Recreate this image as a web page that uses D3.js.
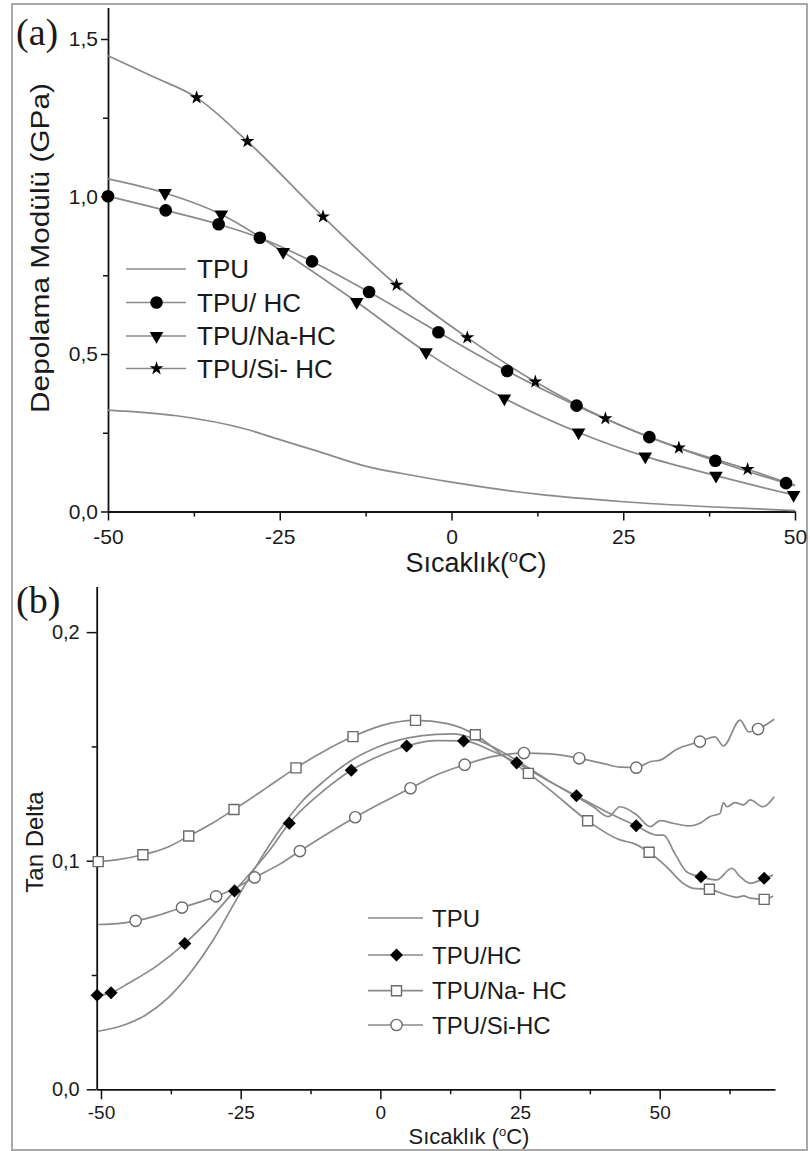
<!DOCTYPE html>
<html><head><meta charset="utf-8">
<script src="https://cdn.jsdelivr.net/npm/d3@7"></script>
<style>
body{margin:0;background:#fff}
svg{display:block}
text{font-family:"Liberation Sans",Arial,sans-serif;fill:#1a1a1a}
</style>
</head><body>
<svg id="c" width="810" height="1151"></svg>
<script>
// ---------------- Panel (a): storage modulus ----------------
const aXTicks = [-50, -25, 0, 25, 50];
const aXTickLabels = ["-50", "-25", "0", "25", "50"];
const aXMinor = [-37.5, -12.5, 12.5, 37.5];
const aYTicks = [0, 0.5, 1.0, 1.5];
const aYTickLabels = ["0,0", "0,5", "1,0", "1,5"];
const aYMinor = [0.25, 0.75, 1.25];

const aTpuT = [-50, -40, -30, -25, -20, -12.5, -5, 0, 12.5, 25, 37.5, 50];
const aTpuE = [0.322, 0.304, 0.262, 0.228, 0.195, 0.144, 0.112, 0.093, 0.055, 0.031, 0.015, 0.003];

const aHcT = [-50, -41.6, -33.9, -27.9, -20.3, -12.0, -1.9, 8.1, 18.2, 28.8, 38.4, 48.7, 50];
const aHcE = [1.001, 0.956, 0.912, 0.869, 0.794, 0.697, 0.569, 0.446, 0.336, 0.236, 0.161, 0.090, 0.082];
const aHcMarkT = [-50, -41.6, -33.9, -27.9, -20.3, -12.0, -1.9, 8.1, 18.2, 28.8, 38.4, 48.7];
const aHcMarkE = [1.001, 0.956, 0.912, 0.869, 0.794, 0.697, 0.569, 0.446, 0.336, 0.236, 0.161, 0.090];

const aNaT = [-50, -41.7, -33.5, -24.5, -13.8, -3.7, 7.7, 18.5, 28.2, 38.5, 49.8, 50];
const aNaE = [1.056, 1.011, 0.943, 0.824, 0.665, 0.506, 0.359, 0.251, 0.175, 0.114, 0.053, 0.052];
const aNaMarkT = [-41.7, -33.5, -24.5, -13.8, -3.7, 7.7, 18.5, 28.2, 38.5, 49.8];
const aNaMarkE = [1.011, 0.943, 0.824, 0.665, 0.506, 0.359, 0.251, 0.175, 0.114, 0.053];

const aSiT = [-50, -43.4, -37.1, -29.7, -18.7, -8.0, 2.3, 12.2, 22.4, 33.1, 43.1, 50];
const aSiE = [1.447, 1.380, 1.314, 1.175, 0.936, 0.719, 0.552, 0.412, 0.295, 0.202, 0.134, 0.083];
const aSiMarkT = [-37.1, -29.7, -18.7, -8.0, 2.3, 12.2, 22.4, 33.1, 43.1];
const aSiMarkE = [1.314, 1.175, 0.936, 0.719, 0.552, 0.412, 0.295, 0.202, 0.134];

const aLegend = ["TPU", "TPU/ HC", "TPU/Na-HC", "TPU/Si- HC"];

// ---------------- Panel (b): tan delta ----------------
const bXTicks = [-50, -25, 0, 25, 50];
const bXTickLabels = ["-50", "-25", "0", "25", "50"];
const bXMinor = [-37.5, -12.5, 12.5, 37.5, 62.5];
const bYTicks = [0, 0.1, 0.2];
const bYTickLabels = ["0,0", "0,1", "0,2"];
const bYMinor = [0.05, 0.15];

const bTpuT = [-50.5, -46, -42, -38, -34, -30, -26, -22, -18, -14, -10, -5, 0, 5, 10, 13, 17, 20, 25, 30.4, 35.1, 38.1, 40.8, 42.9, 45.9, 48.3, 50.1, 52.4, 55.4, 57.2, 59.0, 60.8, 61.4, 62.0, 63.5, 65.0, 66.2, 68.5, 70.5];
const bTpuD = [0.0254, 0.0280, 0.0325, 0.0400, 0.0510, 0.0650, 0.0820, 0.0985, 0.1135, 0.1260, 0.1350, 0.1442, 0.1502, 0.1537, 0.1553, 0.1555, 0.1532, 0.1500, 0.1430, 0.1346, 0.1280, 0.1236, 0.1193, 0.1236, 0.1200, 0.1149, 0.1175, 0.1164, 0.1152, 0.1164, 0.1193, 0.1207, 0.1254, 0.1236, 0.1254, 0.1244, 0.1266, 0.1236, 0.1280];

const bHcT = [-50.7, -48.2, -45, -40, -35, -30, -26.1, -20, -16.3, -10, -5.2, 0, 4.7, 10, 14.9, 20, 24.4, 30, 35.1, 40, 45.8, 49.5, 50.7, 52.7, 54.8, 57.4, 60.2, 62.9, 64.4, 66.2, 68.7, 70.3];
const bHcD = [0.0411, 0.0422, 0.0465, 0.0540, 0.0638, 0.0760, 0.0868, 0.1040, 0.1164, 0.1310, 0.1396, 0.1460, 0.1502, 0.1525, 0.1524, 0.1480, 0.1428, 0.1350, 0.1284, 0.1220, 0.1153, 0.1112, 0.1112, 0.1032, 0.0952, 0.0930, 0.0916, 0.0967, 0.0930, 0.0901, 0.0923, 0.0937];
const bHcMarkT = [-50.7, -48.2, -35.0, -26.1, -16.3, -5.2, 4.7, 14.9, 24.4, 35.1, 45.8, 57.4, 68.7];
const bHcMarkD = [0.0411, 0.0422, 0.0638, 0.0868, 0.1164, 0.1396, 0.1502, 0.1524, 0.1428, 0.1284, 0.1153, 0.0930, 0.0923];

const bNaT = [-50.5, -47, -42.5, -38, -34.3, -30, -26.2, -20, -15.1, -10, -4.9, 0, 6.3, 12, 17.0, 22, 26.5, 30.4, 37.1, 42.9, 45.3, 48.1, 51.2, 54.2, 56.0, 58.9, 62.0, 63.8, 65.0, 66.2, 68.7, 70.3];
const bNaD = [0.0996, 0.1005, 0.1026, 0.1060, 0.1108, 0.1165, 0.1224, 0.1325, 0.1406, 0.1480, 0.1543, 0.1590, 0.1614, 0.1600, 0.1551, 0.1460, 0.1382, 0.1309, 0.1175, 0.1091, 0.1076, 0.1037, 0.0974, 0.0901, 0.0879, 0.0875, 0.0850, 0.0840, 0.0846, 0.0836, 0.0831, 0.0846];
const bNaMarkT = [-50.5, -42.5, -34.3, -26.2, -15.1, -4.9, 6.3, 17.0, 26.5, 37.1, 48.1, 58.9, 68.7];
const bNaMarkD = [0.0996, 0.1026, 0.1108, 0.1224, 0.1406, 0.1543, 0.1614, 0.1551, 0.1382, 0.1175, 0.1037, 0.0875, 0.0831];

const bSiT = [-50.5, -47, -43.8, -40, -35.5, -29.4, -26, -22.5, -18, -14.4, -10, -4.5, 0, 5.4, 10, 15.1, 20, 25.7, 30.4, 35.6, 40, 42.9, 45.8, 48.3, 50.1, 53.0, 57.2, 59.9, 61.4, 64.4, 65.9, 67.6, 70.5];
const bSiD = [0.0721, 0.0725, 0.0737, 0.0760, 0.0795, 0.0844, 0.0880, 0.0927, 0.0985, 0.1042, 0.1110, 0.1190, 0.1250, 0.1317, 0.1375, 0.1420, 0.1455, 0.1471, 0.1467, 0.1448, 0.1425, 0.1409, 0.1407, 0.1433, 0.1440, 0.1487, 0.1521, 0.1542, 0.1502, 0.1615, 0.1564, 0.1576, 0.1619];
const bSiMarkT = [-43.8, -35.5, -29.4, -22.5, -14.4, -4.5, 5.4, 15.1, 25.7, 35.6, 45.8, 57.2, 67.6];
const bSiMarkD = [0.0737, 0.0795, 0.0844, 0.0927, 0.1042, 0.1190, 0.1317, 0.1420, 0.1471, 0.1448, 0.1407, 0.1521, 0.1576];

const bLegend = ["TPU", "TPU/HC", "TPU/Na- HC", "TPU/Si-HC"];

// ---------------- drawing ----------------
const svg = d3.select("#c");
const LINE = "#8a8a8a";

// outer frame
svg.append("rect").attr("x", 12).attr("y", 4).attr("width", 795).attr("height", 1146)
  .attr("fill", "none").attr("stroke", "#a8a8a8").attr("stroke-width", 2);

const zip = (a, b) => a.map((v, i) => [v, b[i]]);

function axes(g, x, y, o) {
  const xa = g.append("g").attr("transform", `translate(0,${y.range()[0]})`)
    .call(d3.axisBottom(x).tickValues(o.xt).tickFormat((d, i) => o.xl[i])
      .tickSize(o.xSize).tickPadding(o.xPad).tickSizeOuter(0));
  xa.select(".domain").attr("stroke", "#111").attr("stroke-width", 1.8);
  xa.selectAll(".tick line").attr("stroke", "#111").attr("stroke-width", 1.5);
  xa.selectAll(".tick text").attr("font-size", o.fs).attr("fill", "#1a1a1a");
  const xm = g.append("g").attr("transform", `translate(0,${y.range()[0]})`)
    .call(d3.axisBottom(x).tickValues(o.xm).tickFormat("").tickSize(o.mSize).tickSizeOuter(0));
  xm.select(".domain").remove();
  xm.selectAll(".tick line").attr("stroke", "#111").attr("stroke-width", 1.5);

  const ya = g.append("g").attr("transform", `translate(${x.range()[0]},0)`)
    .call(d3.axisLeft(y).tickValues(o.yt).tickFormat((d, i) => o.yl[i])
      .tickSize(o.ySize).tickPadding(o.yPad).tickSizeOuter(0));
  ya.select(".domain").attr("stroke", "#111").attr("stroke-width", 1.8);
  ya.selectAll(".tick line").attr("stroke", "#111").attr("stroke-width", 1.5);
  ya.selectAll(".tick text").attr("font-size", o.yfs || o.fs).attr("fill", "#1a1a1a");
  const ym = g.append("g").attr("transform", `translate(${x.range()[0]},0)`)
    .call(d3.axisLeft(y).tickValues(o.ym).tickFormat("").tickSize(o.mSize).tickSizeOuter(0));
  ym.select(".domain").remove();
  ym.selectAll(".tick line").attr("stroke", "#111").attr("stroke-width", 1.5);
}

function series(g, x, y, xs, ys) {
  const line = d3.line().x(d => x(d[0])).y(d => y(d[1])).curve(d3.curveMonotoneX);
  g.append("path").datum(zip(xs, ys)).attr("d", line)
    .attr("fill", "none").attr("stroke", LINE).attr("stroke-width", 1.7);
}

function markers(g, x, y, xs, ys, m) {
  g.selectAll(null).data(zip(xs, ys)).join("path")
    .attr("d", d3.symbol().type(m.type).size(m.size))
    .attr("transform", d => `translate(${x(d[0])},${y(d[1])}) rotate(${m.rot || 0})`)
    .attr("fill", m.fill).attr("stroke", m.stroke).attr("stroke-width", m.sw || 0);
}

// ===== Panel (a) =====
const ax = d3.scaleLinear().domain([-50, 50]).range([108, 795]);
const ay = d3.scaleLinear().domain([0, 1.6]).range([511.5, 7.5]);
const ga = svg.append("g");

axes(ga, ax, ay, {xt: aXTicks, xl: aXTickLabels, xm: aXMinor, yt: aYTicks, yl: aYTickLabels, ym: aYMinor,
  xSize: 9, xPad: 9, ySize: 7, yPad: 3, mSize: 5, fs: 21});

const mA = {
  hc: {type: d3.symbolCircle, size: 125, fill: "#000", stroke: "none"},
  na: {type: d3.symbolTriangle, size: 80, fill: "#000", stroke: "none", rot: 180},
  si: {type: d3.symbolStar, size: 60, fill: "#000", stroke: "none"}
};
series(ga, ax, ay, aTpuT, aTpuE);
series(ga, ax, ay, aNaT, aNaE);
series(ga, ax, ay, aHcT, aHcE);
series(ga, ax, ay, aSiT, aSiE);
markers(ga, ax, ay, aNaMarkT, aNaMarkE, mA.na);
markers(ga, ax, ay, aHcMarkT, aHcMarkE, mA.hc);
markers(ga, ax, ay, aSiMarkT, aSiMarkE, mA.si);

// legend (a)
const legA = [null, mA.hc, mA.na, mA.si];
const legAY = [269, 302.5, 336, 368.5];
aLegend.forEach((t, i) => {
  const yy = legAY[i];
  ga.append("line").attr("x1", 126).attr("x2", 186).attr("y1", yy).attr("y2", yy)
    .attr("stroke", LINE).attr("stroke-width", 1.7);
  if (legA[i]) {
    const m = legA[i];
    ga.append("path").attr("d", d3.symbol().type(m.type).size(m.size)())
      .attr("transform", `translate(156.5,${yy}) rotate(${m.rot || 0})`).attr("fill", m.fill);
  }
  ga.append("text").attr("x", 197).attr("y", yy).attr("dy", "0.36em")
    .attr("font-size", 26).text(t);
});

// titles (a)
ga.append("text").attr("transform", "translate(49,248) rotate(-90)")
  .attr("text-anchor", "middle").attr("font-size", 26)
  .attr("textLength", 330).attr("lengthAdjust", "spacingAndGlyphs")
  .text("Depolama Modülü (GPa)");
const ta = ga.append("text").attr("x", 476).attr("y", 572).attr("text-anchor", "middle").attr("font-size", 27);
ta.append("tspan").text("Sıcaklık(");
ta.append("tspan").attr("font-size", 16).attr("dy", -10).text("o");
ta.append("tspan").attr("dy", 10).text("C)");
ga.append("text").attr("x", 16).attr("y", 45).attr("font-size", 38)
  .style("font-family", "'Liberation Serif','Times New Roman',serif").text("(a)");

// ===== Panel (b) =====
const bx = d3.scaleLinear().domain([-50.77, 70.64]).range([96.7, 775]);
const by = d3.scaleLinear().domain([0, 0.22]).range([1089.3, 586.4]);
const gb = svg.append("g");

axes(gb, bx, by, {xt: bXTicks, xl: bXTickLabels, xm: bXMinor, yt: bYTicks, yl: bYTickLabels, ym: bYMinor,
  xSize: 10, xPad: 6, ySize: 10, yPad: 7, mSize: 5, fs: 19, yfs: 20});

const mB = {
  hc: {type: d3.symbolSquare, size: 85, fill: "#000", stroke: "none", rot: 45},
  na: {type: d3.symbolSquare, size: 100, fill: "#fff", stroke: "#6a6a6a", sw: 1.4},
  si: {type: d3.symbolCircle, size: 100, fill: "#fff", stroke: "#6a6a6a", sw: 1.4}
};
series(gb, bx, by, bTpuT, bTpuD);
series(gb, bx, by, bHcT, bHcD);
series(gb, bx, by, bNaT, bNaD);
series(gb, bx, by, bSiT, bSiD);
markers(gb, bx, by, bSiMarkT, bSiMarkD, mB.si);
markers(gb, bx, by, bNaMarkT, bNaMarkD, mB.na);
markers(gb, bx, by, bHcMarkT, bHcMarkD, mB.hc);

const legB = [null, mB.hc, mB.na, mB.si];
const legBY = [918, 955, 990.7, 1025];
bLegend.forEach((t, i) => {
  const yy = legBY[i];
  gb.append("line").attr("x1", 368).attr("x2", 423).attr("y1", yy).attr("y2", yy)
    .attr("stroke", LINE).attr("stroke-width", 1.7);
  if (legB[i]) {
    const m = legB[i];
    gb.append("path").attr("d", d3.symbol().type(m.type).size(m.size)())
      .attr("transform", `translate(396.5,${yy}) rotate(${m.rot || 0})`)
      .attr("fill", m.fill).attr("stroke", m.stroke).attr("stroke-width", m.sw || 0);
  }
  gb.append("text").attr("x", 432).attr("y", yy).attr("dy", "0.36em")
    .attr("font-size", 24).text(t);
});

gb.append("text").attr("transform", "translate(43,842) rotate(-90)")
  .attr("text-anchor", "middle").attr("font-size", 24).text("Tan Delta");
const tb = gb.append("text").attr("x", 469).attr("y", 1144).attr("text-anchor", "middle").attr("font-size", 22);
tb.append("tspan").text("Sıcaklık (");
tb.append("tspan").attr("font-size", 13).attr("dy", -8).text("o");
tb.append("tspan").attr("dy", 8).text("C)");
gb.append("text").attr("x", 16).attr("y", 613).attr("font-size", 38)
  .style("font-family", "'Liberation Serif','Times New Roman',serif").text("(b)");
</script>
</body></html>
